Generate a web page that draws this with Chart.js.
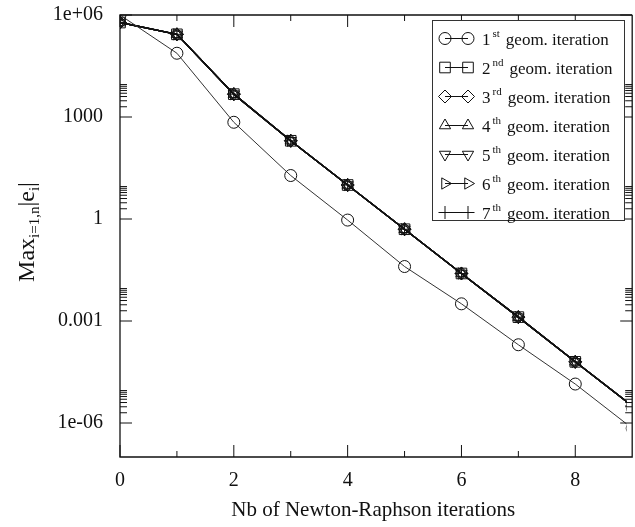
<!DOCTYPE html>
<html>
<head>
<meta charset="utf-8">
<script src="https://cdn.jsdelivr.net/npm/chart.js"></script>
<style>
  html, body { margin: 0; padding: 0; background: #fff; }
  canvas { display: block; }
</style>
</head>
<body>
<canvas id="convergence" width="635" height="527"></canvas>
<script>
// Newton-Raphson iteration index
const iterations = [0, 1, 2, 3, 4, 5, 6, 7, 8, 9];

// max |e_i| per geometric iteration
const geom1 = [1e6, 7.5e4, 700, 19, 0.93, 0.04, 3.2e-3, 2e-4, 1.4e-5, 7e-7];
const geom2 = [6e5, 2.7e5, 4700, 200, 10, 0.5, 0.025, 1.3e-3, 6.3e-5, 3.2e-6];
const geom3 = [6e5, 2.7e5, 4700, 200, 10, 0.5, 0.025, 1.3e-3, 6.3e-5, 3.2e-6];
const geom4 = [6e5, 2.7e5, 4700, 200, 10, 0.5, 0.025, 1.3e-3, 6.3e-5, 3.2e-6];
const geom5 = [6e5, 2.7e5, 4700, 200, 10, 0.5, 0.025, 1.3e-3, 6.3e-5, 3.2e-6];
const geom6 = [6e5, 2.7e5, 4700, 200, 10, 0.5, 0.025, 1.3e-3, 6.3e-5, 3.2e-6];
const geom7 = [6e5, 2.7e5, 4700, 200, 10, 0.5, 0.025, 1.3e-3, 6.3e-5, 3.2e-6];

const ordinals = ['1', '2', '3', '4', '5', '6', '7'];
const ordinalSuffixes = ['st', 'nd', 'rd', 'th', 'th', 'th', 'th'];
const labelTail = 'geom. iteration';

const xMajorTicks = [0, 2, 4, 6, 8];
const xMinorTicks = [1, 3, 5, 7];
const yMajorTicks = [1e-6, 1e-3, 1, 1e3, 1e6];
const yTickLabels = ['1e-06', '0.001', '1', '1000', '1e+06'];

const SERIF = "'Liberation Serif', 'Times New Roman', serif";

const markers = [
    { style: 'circle', rotation: 0, radius: 6 },
    { style: 'rect', rotation: 0, radius: 7.5 },
    { style: 'rectRot', rotation: 0, radius: 6.5 },
    { style: 'triangle', rotation: 0, radius: 6.5 },
    { style: 'triangle', rotation: 180, radius: 6.5 },
    { style: 'triangle', rotation: 90, radius: 6.5 },
    { style: 'cross', rotation: 0, radius: 6.5 }
];

const seriesValues = [geom1, geom2, geom3, geom4, geom5, geom6, geom7];

function makeDataset(values, i) {
    const first = i === 0;
    return {
        label: ordinals[i] + ordinalSuffixes[i] + ' ' + labelTail,
        data: iterations.map((x, j) => ({ x: x, y: values[j] })),
        borderColor: first ? '#333' : '#111',
        borderWidth: first ? 1 : 1.4,
        backgroundColor: 'rgba(0,0,0,0)',
        pointStyle: markers[i].style,
        pointRotation: markers[i].rotation,
        pointRadius: markers[i].radius,
        pointBorderColor: '#111',
        pointBorderWidth: 1,
        pointBackgroundColor: 'rgba(0,0,0,0)',
        tension: 0
    };
}

function drawMarker(ctx, m, x, y) {
    ctx.fillStyle = 'rgba(0,0,0,0)';
    if (Chart.helpers && Chart.helpers.drawPoint) {
        Chart.helpers.drawPoint(ctx, { pointStyle: m.style, rotation: m.rotation, radius: m.radius, borderWidth: 1 }, x, y);
        return;
    }
    ctx.beginPath();
    ctx.arc(x, y, m.radius, 0, Math.PI * 2);
    ctx.stroke();
}

function noPadding(scale) {
    scale.paddingTop = 0;
    scale.paddingBottom = 0;
    scale.paddingLeft = 0;
    scale.paddingRight = 0;
}

// gnuplot-like frame with inward ticks, legend and y title
const gnuplotLook = {
    id: 'gnuplotLook',
    afterDatasetsDraw(chart) {
        const { ctx, chartArea: a, scales: { x, y } } = chart;
        const xr = x.getPixelForValue(9);
        ctx.save();
        ctx.strokeStyle = '#111';
        ctx.lineWidth = 1.3;
        ctx.beginPath();
        ctx.moveTo(xr, a.top);
        ctx.lineTo(a.left, a.top);
        ctx.lineTo(a.left, a.bottom);
        ctx.lineTo(xr, a.bottom);
        ctx.lineTo(xr, a.top);
        ctx.stroke();

        ctx.lineWidth = 1;
        ctx.beginPath();
        xMajorTicks.forEach(v => {
            const px = x.getPixelForValue(v);
            ctx.moveTo(px, a.bottom); ctx.lineTo(px, a.bottom - 12);
            ctx.moveTo(px, a.top); ctx.lineTo(px, a.top + 12);
        });
        xMinorTicks.forEach(v => {
            const px = x.getPixelForValue(v);
            ctx.moveTo(px, a.bottom); ctx.lineTo(px, a.bottom - 6);
            ctx.moveTo(px, a.top); ctx.lineTo(px, a.top + 6);
        });
        yMajorTicks.forEach(v => {
            const py = y.getPixelForValue(v);
            ctx.moveTo(a.left, py); ctx.lineTo(a.left + 12, py);
            ctx.moveTo(xr, py); ctx.lineTo(xr - 12, py);
            for (let k = 2; k <= 9; k++) {
                if (v * k > y.max) continue;
                const pm = y.getPixelForValue(v * k);
                ctx.moveTo(a.left, pm); ctx.lineTo(a.left + 7, pm);
                ctx.moveTo(xr, pm); ctx.lineTo(xr - 7, pm);
            }
        });
        ctx.stroke();
        ctx.restore();
    },
    afterDraw(chart) {
        const { ctx } = chart;
        ctx.save();

        // legend box
        const bx = 432.5, by = 20.5, bw = 192, bh = 200;
        ctx.fillStyle = '#fff';
        ctx.fillRect(bx, by, bw, bh);
        ctx.strokeStyle = '#333';
        ctx.lineWidth = 1;
        ctx.strokeRect(bx, by, bw, bh);

        chart.data.datasets.forEach((ds, i) => {
            const cy = by + 18 + i * 29;
            ctx.strokeStyle = '#111';
            ctx.lineWidth = 1;
            ctx.beginPath();
            ctx.moveTo(445, cy); ctx.lineTo(468, cy);
            ctx.stroke();
            drawMarker(ctx, markers[i], 445, cy);
            drawMarker(ctx, markers[i], 468, cy);

            ctx.fillStyle = '#111';
            ctx.textBaseline = 'alphabetic';
            ctx.textAlign = 'left';
            let tx = 482;
            const base = cy + 6;
            ctx.font = '17px ' + SERIF;
            ctx.fillText(ordinals[i], tx, base);
            tx += ctx.measureText(ordinals[i]).width + 2;
            ctx.font = '11px ' + SERIF;
            ctx.fillText(ordinalSuffixes[i], tx, base - 8);
            tx += ctx.measureText(ordinalSuffixes[i]).width + 6;
            ctx.font = '17px ' + SERIF;
            ctx.fillText(labelTail, tx, base);
        });

        // y axis title with subscripts
        const parts = [
            { t: 'Max', size: 24, dy: 0 },
            { t: 'i=1,n', size: 15, dy: 5 },
            { t: '|e', size: 24, dy: 0 },
            { t: 'i', size: 15, dy: 5 },
            { t: '|', size: 24, dy: 0 }
        ];
        let total = 0;
        parts.forEach(p => {
            ctx.font = p.size + 'px ' + SERIF;
            p.w = ctx.measureText(p.t).width;
            total += p.w;
        });
        ctx.translate(34, 232);
        ctx.rotate(-Math.PI / 2);
        ctx.fillStyle = '#111';
        ctx.textBaseline = 'alphabetic';
        ctx.textAlign = 'left';
        let px = -total / 2;
        parts.forEach(p => {
            ctx.font = p.size + 'px ' + SERIF;
            ctx.fillText(p.t, px, p.dy);
            px += p.w;
        });
        ctx.restore();
    }
};

new Chart(document.getElementById('convergence'), {
    type: 'line',
    data: { datasets: seriesValues.map(makeDataset) },
    options: {
        responsive: false,
        animation: false,
        events: [],
        layout: { padding: { left: 0, top: 15, right: 0, bottom: 0 } },
        plugins: { legend: { display: false }, tooltip: { enabled: false } },
        scales: {
            x: {
                type: 'linear',
                min: 0,
                max: 8.9,
                afterBuildTicks: scale => { scale.ticks = xMajorTicks.map(v => ({ value: v })); },
                afterFit: scale => { scale.height = 70; noPadding(scale); },
                grid: { display: false, drawTicks: false },
                border: { display: false },
                ticks: { color: '#111', padding: 12, font: { family: SERIF, size: 20 } },
                title: {
                    display: true,
                    text: 'Nb of Newton-Raphson iterations',
                    color: '#111',
                    padding: { top: 0, bottom: 4 },
                    font: { family: SERIF, size: 21 }
                }
            },
            y: {
                type: 'logarithmic',
                min: 1e-7,
                max: 1e6,
                afterBuildTicks: scale => { scale.ticks = yMajorTicks.map(v => ({ value: v })); },
                afterFit: scale => { scale.width = 120; noPadding(scale); },
                grid: { display: false, drawTicks: false },
                border: { display: false },
                ticks: {
                    color: '#111',
                    padding: 17,
                    font: { family: SERIF, size: 20 },
                    callback: value => {
                        const idx = yMajorTicks.findIndex(v => Math.abs(Math.log10(v) - Math.log10(value)) < 1e-6);
                        return idx >= 0 ? yTickLabels[idx] : '';
                    }
                }
            }
        }
    },
    plugins: [gnuplotLook]
});
</script>
</body>
</html>
